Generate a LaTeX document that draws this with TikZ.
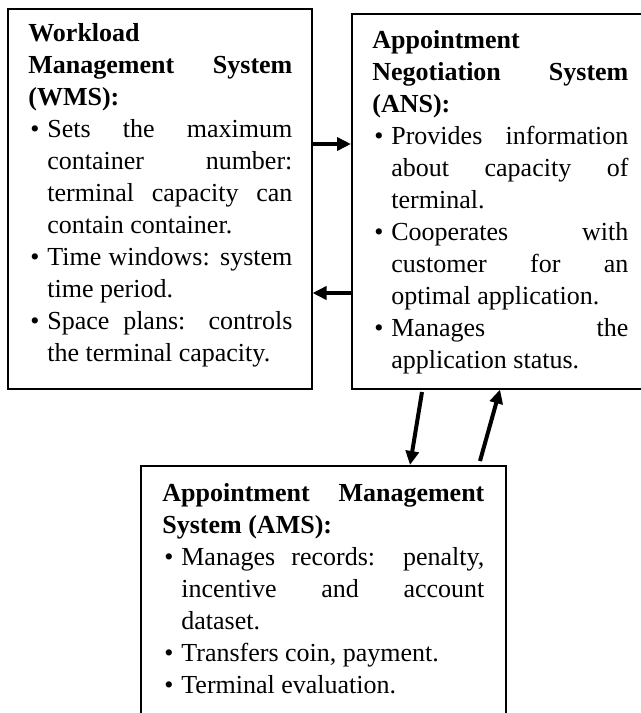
\documentclass[tikz,border=0pt]{standalone}
\usepackage{fontspec}
\setmainfont{Liberation Serif}
\usetikzlibrary{arrows.meta}
\tolerance=10000
\hbadness=10000
\hyphenpenalty=10000
\newcommand{\itm}{\par\noindent\hangindent=9.5pt\hangafter=1\makebox[9.5pt][l]{\hspace{1pt}\textbullet}}
\begin{document}
\begin{tikzpicture}[x=0.5pt,y=-0.5pt,font=\fontsize{13}{16}\selectfont,
  panel/.style={draw,line width=0.75pt,inner sep=0,anchor=north west},
  txt/.style={inner sep=0,anchor=north west,align=justify},
  flow/.style={line width=2pt,-{Triangle[length=7pt,width=6.5pt]}}]
\useasboundingbox (0,0) rectangle (641,713);
\clip (0,0) rectangle (641,713);
\fill[white] (0,0) rectangle (641,713);
\node[panel,minimum width=152pt,minimum height=190pt] (wms) at (7,8) {};
\node[panel,minimum width=155pt,minimum height=187.5pt] (ans) at (351,13) {};
\node[panel,minimum width=182.5pt,minimum height=150pt] (ams) at (140,465) {};
\node[txt,text width=132pt] (wmstext) at (28,23) {\noindent\textbf{Workload\linebreak Management System\linebreak (WMS):}
\itm Sets the maximum\linebreak container number:\linebreak terminal capacity can\linebreak contain container.
\itm Time windows: system\linebreak time period.
\itm Space plans: controls\linebreak the terminal capacity.\par};
\node[txt,text width=128pt] (anstext) at (372,30) {\noindent\textbf{Appointment\linebreak Negotiation System\linebreak (ANS):}
\itm Provides information\linebreak about capacity of\linebreak terminal.
\itm Cooperates with\linebreak customer for an\linebreak optimal application.
\itm Manages the\linebreak application status.\par};
\node[txt,text width=161pt] (amstext) at (162,483) {\noindent\textbf{Appointment Management\linebreak System (AMS):}
\itm Manages records: penalty,\linebreak incentive and account\linebreak dataset.
\itm Transfers coin, payment.
\itm Terminal evaluation.\par};
\coordinate (dnstart) at (422,392);
\coordinate (upstart) at (480,461);
\draw[flow] (wms.east |- 0,144) -- (ans.west |- 0,144);
\draw[flow] (ans.west |- 0,293) -- (wms.east |- 0,293);
\draw[flow] (dnstart) -- (ams.north -| 410,0);
\draw[flow] (upstart) -- (ans.south -| 500,0);
\end{tikzpicture}
\end{document}
